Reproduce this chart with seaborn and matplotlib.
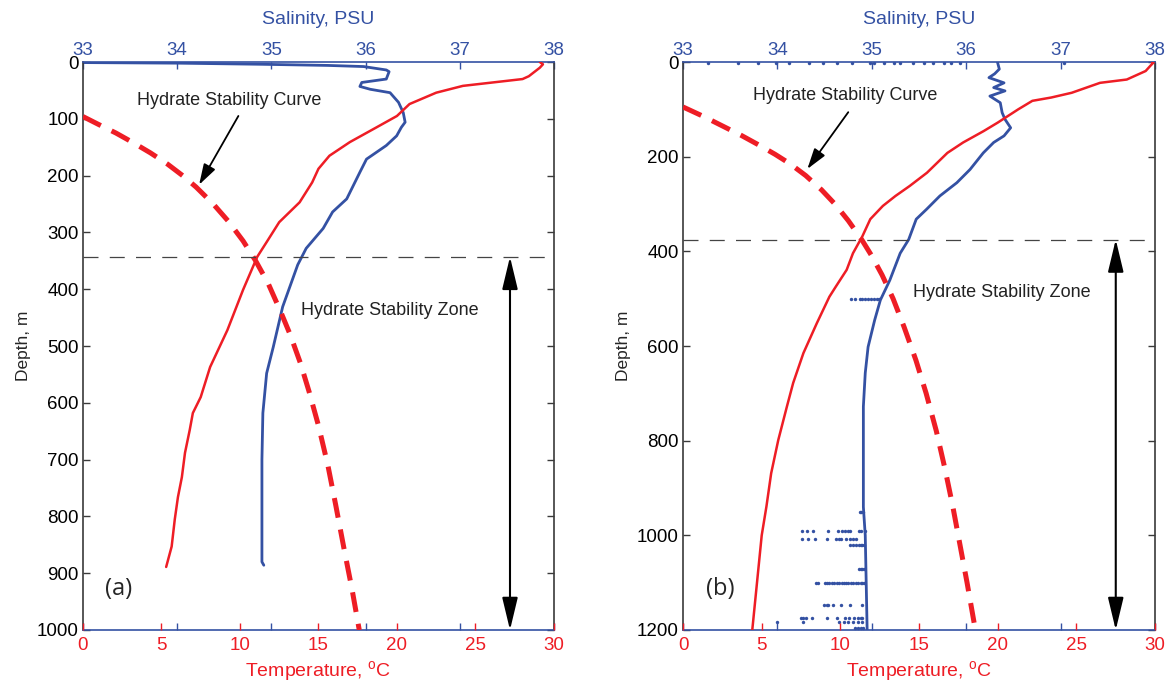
import matplotlib
matplotlib.use('Agg')
import matplotlib.pyplot as plt
import seaborn as sns
import pandas as pd

# ---- panel (a) ----
# temperature profile (depth in m, temperature in deg C)
temp_a_depth = [0, 4, 10, 25, 30, 42, 54, 74, 95, 115, 141, 165, 188, 212, 247, 282, 317, 343,
                401, 472, 537, 590, 618, 648, 688, 731, 766, 805, 853, 889]
temp_a = [29.1, 29.3, 29.1, 28.4, 28.0, 24.2, 22.5, 20.8, 20.0, 18.7, 17.0, 15.7, 15.0, 14.6, 13.8, 12.5, 11.7, 11.1,
          10.2, 9.2, 8.1, 7.5, 7.0, 6.8, 6.5, 6.3, 6.05, 5.85, 5.65, 5.3]

# salinity profile (depth in m, PSU)
sal_a_depth = [1, 2, 4, 6, 8, 14, 17, 30, 36, 43, 48, 54, 71, 89, 106, 115, 130, 147, 171, 194, 241, 264,
               293, 328, 357, 431, 502, 548, 618, 700, 800, 880, 886]
sal_a = [33.0, 34.0, 34.9, 35.6, 35.98, 36.22, 36.25, 36.22, 35.96, 35.94, 36.05, 36.26, 36.35, 36.40, 36.42, 36.38,
         36.33, 36.22, 36.01, 35.94, 35.80, 35.65, 35.55, 35.37, 35.28, 35.12, 35.02, 34.95, 34.91, 34.90, 34.90,
         34.90, 34.92]

# hydrate stability curve
hsc_a_depth = [96, 110, 125, 142, 160, 180, 200, 220, 250, 280, 315, 350, 390, 440, 480, 530, 580, 640, 710,
               780, 860, 930, 1000]
hsc_a = [0.0, 1.0, 2.1, 3.2, 4.3, 5.4, 6.35, 7.2, 8.3, 9.25, 10.2, 11.0, 11.8, 12.6, 13.2, 13.85, 14.4, 15.0, 15.6,
         16.1, 16.65, 17.15, 17.6]
zone_top_a = 343

# ---- panel (b) ----
temp_b_depth = [0, 1, 8, 19, 37, 44, 65, 75, 82, 100, 128, 146, 170, 192, 234, 262, 283, 304, 332, 368, 404,
                439, 475, 496, 552, 615, 678, 728, 799, 869, 939, 1000, 1100, 1200]
temp_b = [29.8, 29.9, 29.7, 29.4, 28.2, 26.5, 24.7, 23.4, 22.2, 21.3, 20.0, 19.1, 17.8, 16.8, 15.5, 14.4, 13.5,
          12.7, 11.9, 11.4, 10.8, 10.4, 9.7, 9.3, 8.5, 7.65, 7.0, 6.6, 6.05, 5.6, 5.3, 5.0, 4.7, 4.4]

sal_b_depth = [0, 15, 25, 33, 44, 54, 61, 72, 86, 107, 121, 139, 156, 170, 192, 227, 255, 283, 311, 332, 375,
               404, 461, 503, 545, 602, 657, 728, 940, 1000, 1200]
sal_b = [36.33, 36.35, 36.30, 36.24, 36.40, 36.29, 36.41, 36.25, 36.36, 36.38, 36.41, 36.47, 36.40, 36.29, 36.18,
         36.04, 35.90, 35.72, 35.58, 35.47, 35.39, 35.30, 35.19, 35.09, 35.03, 34.96, 34.93, 34.91, 34.91, 34.93,
         34.95]

hsc_b_depth = [95, 115, 135, 155, 175, 195, 215, 240, 270, 300, 335, 375, 410, 450, 500, 560, 630, 700, 780,
               860, 940, 1020, 1100, 1185]
hsc_b = [0.0, 1.3, 2.5, 3.7, 4.8, 5.85, 6.8, 7.8, 8.8, 9.65, 10.5, 11.35, 12.0, 12.65, 13.35, 14.05, 14.8, 15.45,
         16.1, 16.65, 17.15, 17.6, 18.05, 18.5]
zone_top_b = 375

# stray salinity samples in the (b) cast
dot_rows_depth = [3, 500, 950, 990, 1008, 1020, 1071, 1101, 1147, 1175, 1183, 1195]
dot_rows_sal = [
    [33.26, 33.58, 33.79, 33.98, 34.12, 34.33, 34.48, 34.63, 34.79, 34.98, 35.02, 35.13, 35.23, 35.30, 35.44,
     35.55, 35.65, 35.76, 35.84, 35.93, 37.04],
    [34.78, 34.82, 34.87, 34.90, 34.93, 34.96, 34.99, 35.02, 35.05, 35.08],
    [34.87, 34.89, 34.91],
    [34.26, 34.31, 34.38, 34.54, 34.64, 34.68, 34.72, 34.75, 34.77, 34.86, 34.88, 34.93],
    [34.26, 34.32, 34.40, 34.53, 34.62, 34.65, 34.67, 34.73, 34.77, 34.80, 34.83],
    [34.77, 34.80, 34.83, 34.86, 34.88, 34.90, 34.92],
    [34.86, 34.88, 34.90, 34.92],
    [34.41, 34.43, 34.50, 34.53, 34.55, 34.58, 34.60, 34.63, 34.65, 34.68, 34.70, 34.73, 34.75, 34.78, 34.80,
     34.83, 34.85, 34.88, 34.90, 34.92],
    [34.49, 34.52, 34.54, 34.59, 34.67, 34.77, 34.90],
    [34.25, 34.27, 34.30, 34.37, 34.53, 34.63, 34.72, 34.76, 34.81, 34.85, 34.88, 34.90],
    [33.99, 34.27, 34.65, 34.70, 34.75, 34.80, 34.85, 34.90],
    [34.82, 34.85, 34.88, 34.91],
]

temp_ticks = [0, 5, 10, 15, 20, 25, 30]
sal_ticks = [33, 34, 35, 36, 37, 38]

RED = '#ee1d25'
BLUE = '#3451a3'
SPINE = '#3a3a3a'

sns.set_style('white')
plt.rcParams['font.family'] = ['Liberation Sans', 'DejaVu Sans']
plt.rcParams['mathtext.fontset'] = 'custom'
plt.rcParams['mathtext.rm'] = 'Liberation Sans'
plt.rcParams['mathtext.it'] = 'Liberation Sans:italic'

fig = plt.figure(figsize=(11.65, 6.83), dpi=100)
ax_a = fig.add_axes([0.0712, 0.0776, 0.4043, 0.8316])
ax_b = fig.add_axes([0.5863, 0.0776, 0.4052, 0.8316])


def draw_panel(ax, t_depth, t, s_depth, s, h_depth, h, zone_top, max_depth, ystep, dots=None):
    # salinity lives on the base axes, temperature on a twin drawn above it
    tax = ax.twiny()

    sns.lineplot(x=s, y=s_depth, sort=False, estimator=None, color=BLUE, linewidth=2.0, ax=ax)
    if dots is not None:
        sns.scatterplot(data=dots, x='sal', y='depth', color=BLUE, s=6, linewidth=0, ax=ax)

    sns.lineplot(x=t, y=t_depth, sort=False, estimator=None, color=RED, linewidth=1.8, ax=tax)
    hsc_line = sns.lineplot(x=h, y=h_depth, sort=False, estimator=None, color=RED, linewidth=3.6, ax=tax)
    hsc_line.lines[-1].set_dashes((4.0, 2.4))
    tax.axhline(zone_top, color='#444444', linewidth=0.9, dashes=(12, 9))

    ax.set_xlim(33, 38)
    tax.set_xlim(0, 30)
    ax.set_ylim(max_depth, 0)

    # axes cosmetics
    ax.xaxis.set_ticks_position('both')
    ax.xaxis.set_label_position('top')
    ax.set_xticks(sal_ticks)
    ax.tick_params(axis='x', direction='in', colors=BLUE, length=5, width=1, top=True, bottom=True,
                   labeltop=True, labelbottom=False, labelsize=13.5, pad=2)
    tax.xaxis.set_ticks_position('bottom')
    tax.xaxis.set_label_position('bottom')
    tax.set_xticks(temp_ticks)
    tax.tick_params(axis='x', direction='in', colors=RED, length=5, width=1, top=False, bottom=True,
                    labelbottom=True, labeltop=False, labelsize=13.5, pad=5)
    ax.set_yticks(range(0, max_depth + 1, ystep))
    ax.tick_params(axis='y', direction='in', length=5, width=1, color=SPINE, left=True, right=True,
                   labelcolor='black', labelsize=13.5, pad=3)

    ax.set_xlabel('Salinity, PSU', color=BLUE, fontsize=14, labelpad=13)
    tax.set_xlabel(r'Temperature, $^{\rm o}$C', color=RED, fontsize=14, labelpad=4)
    ax.set_ylabel('Depth, m', fontsize=12.5, labelpad=4)

    for side in ['left', 'right']:
        ax.spines[side].set_color(SPINE)
        ax.spines[side].set_linewidth(1.2)
    for side in ['top', 'bottom']:
        ax.spines[side].set_color(BLUE)
        ax.spines[side].set_linewidth(1.2)
    for side in tax.spines:
        tax.spines[side].set_visible(False)
    return tax


dots_b = pd.DataFrame({
    'depth': [d for d, row in zip(dot_rows_depth, dot_rows_sal) for _ in row],
    'sal': [v for row in dot_rows_sal for v in row],
})

tax_a = draw_panel(ax_a, temp_a_depth, temp_a, sal_a_depth, sal_a, hsc_a_depth, hsc_a, zone_top_a, 1000, 100)
tax_b = draw_panel(ax_b, temp_b_depth, temp_b, sal_b_depth, sal_b, hsc_b_depth, hsc_b, zone_top_b, 1200, 200,
                   dots=dots_b)

arrow_kw = dict(arrowstyle='-|>,head_length=0.9,head_width=0.28', color='black', lw=1.3,
                mutation_scale=14, shrinkA=0, shrinkB=0)
span_kw = dict(arrowstyle='<|-|>,head_length=1.0,head_width=0.24', color='black', lw=1.5,
               mutation_scale=20, shrinkA=0, shrinkB=0)

# panel (a) annotations
tax_a.text(9.3, 68, 'Hydrate Stability Curve', fontsize=13, color='#222222', ha='center', va='center')
tax_a.annotate('', xy=(7.4, 216), xytext=(9.9, 95), arrowprops=arrow_kw)
tax_a.text(13.9, 437, 'Hydrate Stability Zone', fontsize=13, color='#222222', ha='left', va='center')
tax_a.annotate('', xy=(27.2, 1000), xytext=(27.2, zone_top_a), arrowprops=span_kw)
tax_a.text(2.3, 928, '(a)', fontsize=17, family='Open Sans', ha='center', va='center')

# panel (b) annotations
tax_b.text(10.3, 70, 'Hydrate Stability Curve', fontsize=13, color='#222222', ha='center', va='center')
tax_b.annotate('', xy=(7.9, 226), xytext=(10.5, 106), arrowprops=arrow_kw)
tax_b.text(14.6, 486, 'Hydrate Stability Zone', fontsize=13, color='#222222', ha='left', va='center')
tax_b.annotate('', xy=(27.5, 1200), xytext=(27.5, zone_top_b), arrowprops=span_kw)
tax_b.text(2.35, 1114, '(b)', fontsize=17, family='Open Sans', ha='center', va='center')

fig.savefig('out.png', dpi=100)
